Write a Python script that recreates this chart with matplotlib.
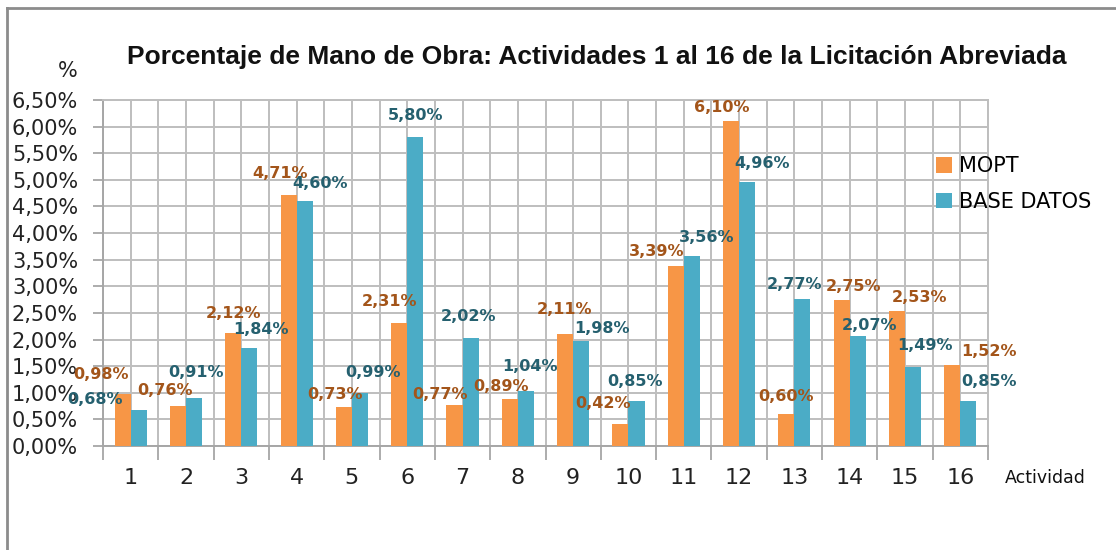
import matplotlib
matplotlib.use("Agg")
import matplotlib.pyplot as plt
from matplotlib.patches import Patch
from matplotlib.lines import Line2D
import numpy as np

# ---------------- data ----------------
actividades = [str(i) for i in range(1, 17)]
mopt = [0.98, 0.76, 2.12, 4.71, 0.73, 2.31, 0.77, 0.89, 2.11, 0.42, 3.39, 6.10, 0.60, 2.75, 2.53, 1.52]
base_datos = [0.68, 0.91, 1.84, 4.60, 0.99, 5.80, 2.02, 1.04, 1.98, 0.85, 3.56, 4.96, 2.77, 2.07, 1.49, 0.85]
y_ticks = [0.0, 0.5, 1.0, 1.5, 2.0, 2.5, 3.0, 3.5, 4.0, 4.5, 5.0, 5.5, 6.0, 6.5]
y_tick_labels = ["0,00%", "0,50%", "1,00%", "1,50%", "2,00%", "2,50%", "3,00%",
                 "3,50%", "4,00%", "4,50%", "5,00%", "5,50%", "6,00%", "6,50%"]
series_names = ["MOPT", "BASE DATOS"]
title = "Porcentaje de Mano de Obra: Actividades 1 al 16 de la Licitación Abreviada"

# label offsets (pixels, manual placement as in the original chart)
mopt_lbl_off = [(-22, 19), (-13, 15), (0, 20), (-9, 22), (-9, 13), (-10, 22), (-15, 11), (-9, 12),
                (-1, 24), (-17, 20), (-19, 14), (-9, 14), (0, 18), (12, 13), (22, 14), (37, 14)]
base_lbl_off = [(-44, 10), (2, 25), (12, 19), (15, 18), (13, 21), (0, 22), (-2, 22), (4, 24),
                (21, 12), (-1, 19), (15, 19), (15, 18), (-8, 14), (12, 10), (12, 21), (21, 19)]

# ---------------- style ----------------
c_orange = "#F79646"
c_blue = "#4BACC6"
c_orange_txt = "#A3551A"
c_blue_txt = "#25606F"
grid_c = "#BEBEBE"

W, H = 1116, 550
fig = plt.figure(figsize=(W / 100, H / 100), dpi=100)
ax = fig.add_axes([103 / W, 1 - 446 / H, (988 - 103) / W, (446 - 100) / H])

x = np.arange(1, len(actividades) + 1)
bw = 0.29
b1 = ax.bar(x - bw / 2, mopt, width=bw, color=c_orange, zorder=3)
b2 = ax.bar(x + bw / 2, base_datos, width=bw, color=c_blue, zorder=3)

def fmt(v):
    return f"{v:.2f}".replace(".", ",") + "%"

for xi, v, off in zip(x - bw / 2, mopt, mopt_lbl_off):
    ax.annotate(fmt(v), (xi, v), xytext=off, textcoords="offset pixels",
                ha="center", va="center", color=c_orange_txt, fontsize=11.5,
                fontweight="bold", zorder=5, annotation_clip=False)
for xi, v, off in zip(x + bw / 2, base_datos, base_lbl_off):
    ax.annotate(fmt(v), (xi, v), xytext=off, textcoords="offset pixels",
                ha="center", va="center", color=c_blue_txt, fontsize=11.5,
                fontweight="bold", zorder=5, annotation_clip=False)

ax.set_xlim(0.5, len(actividades) + 0.5)
ax.set_ylim(0, 6.5)

# x ticks: boundaries (marks) and centers (labels)
ax.set_xticks(np.arange(0.5, len(actividades) + 1, 1.0))
ax.set_xticklabels([])
ax.set_xticks(x, minor=True)
ax.set_xticklabels(actividades, minor=True, fontsize=16, color="#222222")
ax.tick_params(axis="x", which="major", length=10, width=1.3, color="#A6A6A6", direction="out")
ax.tick_params(axis="x", which="minor", length=0, pad=16)

ax.set_yticks(y_ticks)
ax.set_yticklabels(y_tick_labels, fontsize=15, color="#222222")
ax.tick_params(axis="y", length=7, width=1.3, color="#A6A6A6", pad=11)

ax.grid(True, which="both", axis="x", color=grid_c, linewidth=1.4, zorder=0)
ax.grid(True, which="major", axis="y", color=grid_c, linewidth=1.4, zorder=0)
ax.set_axisbelow(True)
for s in ["top", "right"]:
    ax.spines[s].set_color(grid_c)
    ax.spines[s].set_linewidth(1.4)
for s in ["left", "bottom"]:
    ax.spines[s].set_color("#A6A6A6")
    ax.spines[s].set_linewidth(1.4)

# texts
fig.text(597 / W, 1 - 57 / H, title, ha="center", va="center", fontsize=19,
         fontweight="bold", family="Liberation Sans", color="#111111")
fig.text(68 / W, 1 - 71 / H, "%", ha="center", va="center", fontsize=15, color="#222222")
fig.text(1005 / W, 1 - 478 / H, "Actividad", ha="left", va="center", fontsize=12.5, color="#111111")

# legend
handles = [Patch(facecolor=c_orange, edgecolor="none"), Patch(facecolor=c_blue, edgecolor="none")]
fig.legend(handles, series_names, loc="center left", bbox_to_anchor=(936 / W, 1 - 184 / H),
           frameon=False, fontsize=15, handlelength=0.77, handleheight=0.77,
           handletextpad=0.35, labelspacing=0.75, borderpad=0, borderaxespad=0)

# outer frame
fig.add_artist(Line2D([7 / W, 7 / W], [0, 1 - 8 / H], color="#8C8C8C", linewidth=2))
fig.add_artist(Line2D([7 / W, 1], [1 - 8 / H, 1 - 8 / H], color="#8C8C8C", linewidth=2))

fig.savefig("out.png", dpi=100)
